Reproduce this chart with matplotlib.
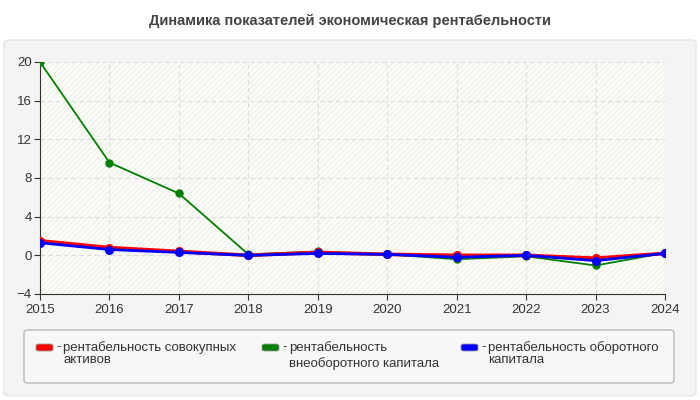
import matplotlib
matplotlib.use("Agg")
import matplotlib.pyplot as plt
from matplotlib.patches import FancyBboxPatch, Rectangle

plt.rcParams['font.family'] = ['Liberation Sans', 'DejaVu Sans']

years = [2015, 2016, 2017, 2018, 2019, 2020, 2021, 2022, 2023, 2024]
total_assets = [1.5, 0.8, 0.4, 0.0, 0.3, 0.1, 0.0, 0.0, -0.3, 0.2]
fixed_capital = [20.0, 9.6, 6.4, 0.1, 0.4, 0.1, -0.4, -0.1, -1.05, 0.25]
working_capital = [1.3, 0.6, 0.3, 0.0, 0.2, 0.1, -0.2, 0.0, -0.55, 0.2]

title = "Динамика показателей экономическая рентабельности"
labels = ["рентабельность совокупных\nактивов",
          "рентабельность\nвнеоборотного капитала",
          "рентабельность оборотного\nкапитала"]
colors = ["#ff0000", "#008000", "#0000ff"]
yticks = [-4, 0, 4, 8, 12, 16, 20]

fig = plt.figure(figsize=(7, 4), dpi=100)
fig.patch.set_facecolor("white")

# grey panel behind everything
panel = FancyBboxPatch((4 / 700, 4 / 400), 692 / 700, 356 / 400,
                       boxstyle="round,pad=0,rounding_size=0.008",
                       transform=fig.transFigure, facecolor="#f4f4f4",
                       edgecolor="#e6e6e6", linewidth=1, zorder=-10)
fig.patches.append(panel)

fig.text(0.5, 0.948, title, ha="center", va="center", fontsize=10.5,
         fontweight="bold", color="#444444")

ax = fig.add_axes([40 / 700, 106 / 400, 625 / 700, 232 / 400])
ax.set_facecolor("#fdfdf8")
ax.add_patch(Rectangle((0, 0), 1, 1, transform=ax.transAxes, facecolor="none",
                       edgecolor="#f1f1ef", hatch="//////", linewidth=0, zorder=0))

ax.plot(years, fixed_capital, color=colors[1], lw=1.3, marker="o", ms=5, zorder=3)
ax.plot(years, total_assets, color=colors[0], lw=2.6, marker="o", ms=5.5, zorder=4)
ax.plot(years, working_capital, color=colors[2], lw=2.0, marker="o", ms=5.5, zorder=5)

ax.set_xlim(2015, 2024)
ax.set_ylim(-4, 20)
ax.set_xticks(years)
ax.set_yticks(yticks)
ax.grid(True, color="#dddddd", linestyle=(0, (4, 3)), linewidth=0.8)
ax.set_axisbelow(True)
for s in ["top", "right"]:
    ax.spines[s].set_visible(False)
for s in ["left", "bottom"]:
    ax.spines[s].set_color("#333333")
ax.tick_params(axis="both", labelsize=9.5, colors="#333333", length=4)
ax.tick_params(axis="y", pad=2)

# legend box
leg = FancyBboxPatch((24 / 700, 17 / 400), 650 / 700, 53 / 400,
                     boxstyle="round,pad=0,rounding_size=0.006",
                     transform=fig.transFigure, facecolor="#f7f7f7",
                     edgecolor="#aaaaaa", linewidth=0.8, zorder=-5)
fig.patches.append(leg)

xs = [36, 262, 461]
for x, lab, c in zip(xs, labels, colors):
    fig.patches.append(FancyBboxPatch((x / 700, 49 / 400), 17 / 700, 7 / 400,
                                      boxstyle="round,pad=0,rounding_size=0.004",
                                      transform=fig.transFigure, facecolor=c,
                                      edgecolor="#999999", linewidth=0.6, zorder=-4))
    fig.text((x + 20) / 700, 52.5 / 400, "-", ha="left", va="center",
             fontsize=9.5, color="#333333")
    first, second = lab.split("\n")
    fig.text((x + 27) / 700, 52.5 / 400, first, ha="left", va="center",
             fontsize=9.5, color="#333333")
    off = 36.5 if c == colors[1] else 40
    fig.text((x + 27) / 700, off / 400, second, ha="left", va="center",
             fontsize=9.5, color="#333333")

fig.savefig("out.png", dpi=100)
